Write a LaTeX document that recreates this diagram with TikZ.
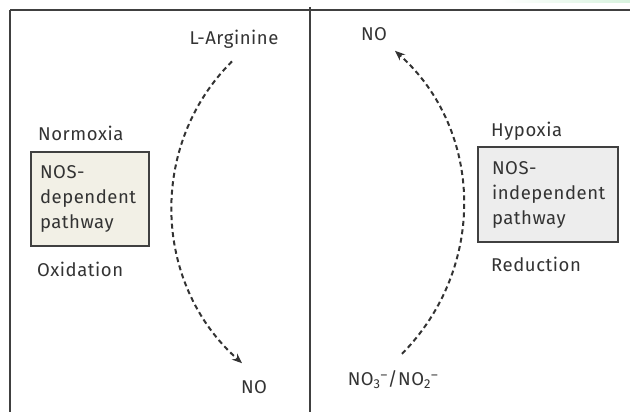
\documentclass[tikz,border=0pt]{standalone}
\usepackage{fontspec}
\setmainfont{Fira Sans}[LetterSpace=3]
\usetikzlibrary{arrows.meta,shadings}
\definecolor{ink}{HTML}{333333}
\definecolor{framec}{HTML}{404040}
\definecolor{creamfill}{HTML}{F2F0E6}
\definecolor{greyfill}{HTML}{EDEDED}
\definecolor{fadegreen}{HTML}{D8F3DF}
\tikzset{
  lbl/.style={text=ink, font=\fontsize{18.5}{22}\selectfont, inner sep=2pt},
  pathbox/.style={draw=framec, line width=1.8pt, align=left, text=ink,
    font=\fontsize{18.5}{25}\selectfont, inner sep=0pt, anchor=center},
  flow/.style={draw=ink, line width=2pt, dash pattern=on 5pt off 3.5pt,
    -{Stealth[length=10pt,width=8pt]}},
  frameline/.style={draw=framec, line width=1.6pt}
}
\begin{document}
\begin{tikzpicture}[x=1pt,y=-1pt]
\useasboundingbox (0,0) rectangle (630,412);
% faint artefact top right
\shade[left color=white, right color=fadegreen] (500,0) rectangle (630,3);
% frame
\coordinate (tl) at (10,10);
\coordinate (tr) at (630,10);
\coordinate (bl) at (10,412);
\coordinate (dt) at (310,7);
\coordinate (db) at (310,412);
\draw[frameline, line width=2.4pt] (tl) -- (tr);
\draw[frameline] (tl) -- (bl);
\draw[frameline] (dt) -- (db);
% left panel
\node[lbl] (arg) at (234,39) {L-Arginine};
\node[lbl] (no1) at (254,387) {NO};
\node[lbl, anchor=west] (norm) at (36,133) {Normoxia};
\node[lbl, anchor=west] (oxid) at (35,269) {Oxidation};
\node[pathbox, fill=creamfill, minimum width=118pt, minimum height=94pt,
      text width=100pt] (box1) at (90,199) {NOS-\\dependent\\pathway};
% right panel
\node[lbl] (no2) at (374,34) {NO};
\node[lbl] (nox) at (393,380) {NO\textsubscript{3}\textsuperscript{–}/NO\textsubscript{2}\textsuperscript{–}};
\node[lbl, anchor=west] (hyp) at (489,131) {Hypoxia};
\node[lbl, anchor=west] (red) at (489,264) {Reduction};
\node[pathbox, fill=greyfill, minimum width=140pt, minimum height=95pt,
      text width=112pt] (box2) at (548,194.5) {NOS-\\independent\\pathway};
% arc control points
\coordinate (c1) at (148,145);
\coordinate (c2) at (152.5,283.5);
\coordinate (c3) at (487,267.6);
\coordinate (c4) at (483.7,130.4);
% arrows
\draw[flow] ([xshift=-2pt,yshift=-11pt]arg.south) .. controls (c1) and (c2) .. ([xshift=-12pt,yshift=15pt]no1.north);
\draw[flow] ([xshift=9pt,yshift=15pt]nox.north) .. controls (c3) and (c4) .. ([xshift=21pt,yshift=-8pt]no2.south);
\end{tikzpicture}
\end{document}
